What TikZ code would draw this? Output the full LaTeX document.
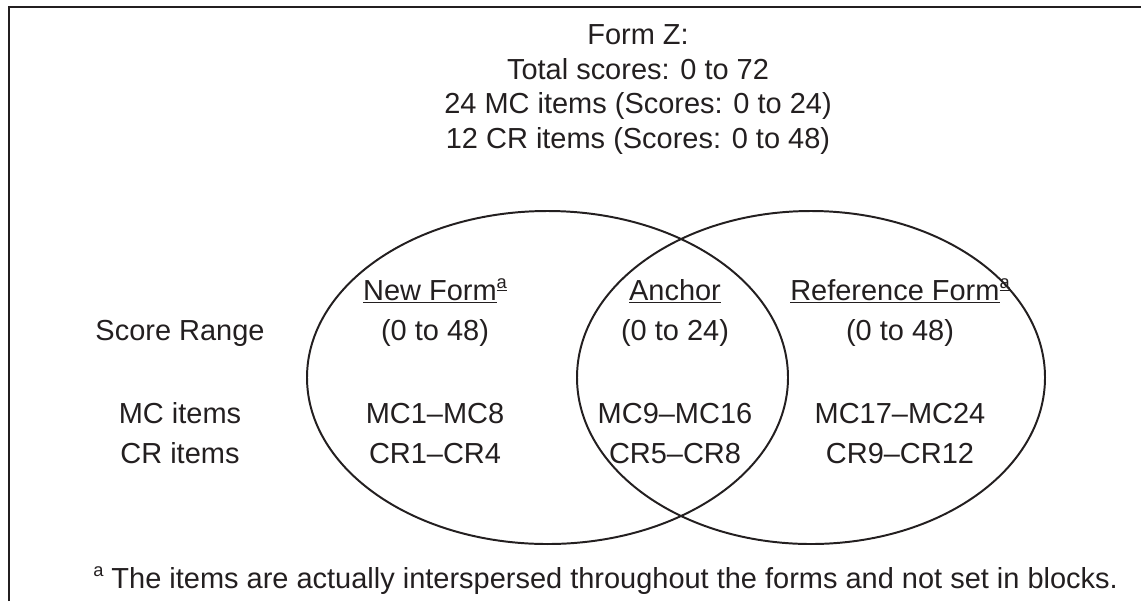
\documentclass[tikz,border=0pt]{standalone}
\usepackage{fontspec}
\setmainfont{Liberation Sans}
\usetikzlibrary{positioning}
\definecolor{ink}{HTML}{231F20}
\newcommand{\notemark}[1]{\raisebox{0.4em}{\fontsize{13}{14}\selectfont #1}}
\newcommand{\formhead}[1]{\underline{#1}\notemark{\underline{a}}}

\begin{document}
\begin{tikzpicture}[x=0.025cm, y=-0.025cm,
	lbl/.style={text=ink, inner sep=0pt, anchor=base,
		font=\fontsize{20.6}{24.8}\selectfont},
	title/.style={lbl, align=center, anchor=north},
	ring/.style={draw=ink, line width=1.4pt}
]
	\useasboundingbox (0,0) rectangle (1141,601);
	% open frame
	\draw[ink, line width=1.8pt] (9,601) -- (9,7) -- (1141,7);

	\node[title] (formz) at (638, 24)
		{Form Z:\\ Total scores: 0 to 72\\ 24 MC items (Scores: 0 to 24)\\
		12 CR items (Scores: 0 to 48)};

	% the two forms
	\draw[ring] (547.5, 377.5) ellipse [x radius=240.5, y radius=166.5];
	\draw[ring] (811, 377.5) ellipse [x radius=234, y radius=166.5];

	% row labels
	\node[lbl] (range) at (180, 340) {Score Range};
	\node[lbl] (mc) at (180, 423) {MC items};
	\node[lbl] (cr) at (180, 463) {CR items};

	% new form
	\node[lbl] (newhead) at (435, 300) {\formhead{New Form}};
	\node[lbl] (newrange) at (435, 340) {(0 to 48)};
	\node[lbl] (newmc) at (435, 423) {MC1--MC8};
	\node[lbl] (newcr) at (435, 463) {CR1--CR4};

	% anchor
	\node[lbl] (anchead) at (675, 300) {\underline{Anchor}};
	\node[lbl] (ancrange) at (675, 340) {(0 to 24)};
	\node[lbl] (ancmc) at (675, 423) {MC9--MC16};
	\node[lbl] (anccr) at (675, 463) {CR5--CR8};

	% reference form
	\node[lbl] (refhead) at (900, 300) {\formhead{Reference Form}};
	\node[lbl] (refrange) at (900, 340) {(0 to 48)};
	\node[lbl] (refmc) at (900, 423) {MC17--MC24};
	\node[lbl] (refcr) at (900, 463) {CR9--CR12};

	\node[lbl, anchor=base west] (note) at (93, 588)
		{\notemark{a} The items are actually interspersed throughout the forms and not set in blocks.};
\end{tikzpicture}
\end{document}
